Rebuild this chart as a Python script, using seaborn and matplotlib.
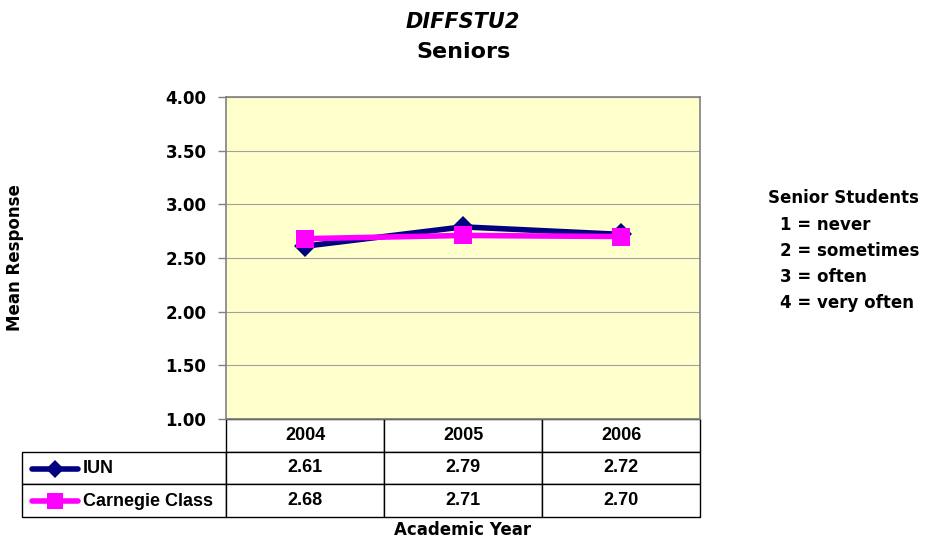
import pandas as pd
import seaborn as sns
import matplotlib.pyplot as plt
from matplotlib.lines import Line2D
from matplotlib.table import Table

# data
years = ['2004', '2005', '2006']
iun = [2.61, 2.79, 2.72]
carnegie = [2.68, 2.71, 2.70]
series_names = ['IUN', 'Carnegie Class']
colors = {'IUN': '#000080', 'Carnegie Class': '#FF00FF'}
markers = {'IUN': 'D', 'Carnegie Class': 's'}
scale_notes = ['1 = never', '2 = sometimes', '3 = often', '4 = very often']

df = pd.DataFrame({
    'Year': years * 2,
    'Mean': iun + carnegie,
    'Group': ['IUN'] * 3 + ['Carnegie Class'] * 3,
})

sns.set_theme(style='white')
plt.rcParams['font.family'] = ['DejaVu Sans']
plt.rcParams['font.weight'] = 'bold'
plt.rcParams['text.color'] = 'black'
plt.rcParams['ytick.labelcolor'] = 'black'

TABLE_FONT = ['Liberation Sans', 'DejaVu Sans']
LABEL_FONT = ['Liberation Sans Narrow', 'Liberation Sans']

fig = plt.figure(figsize=(9.27, 5.42), dpi=100)
ax = fig.add_axes([226 / 927, 1 - 419 / 542, 474 / 927, 322 / 542])
ax.set_facecolor('#FFFFCC')

ax = sns.lineplot(data=df, x='Year', y='Mean', hue='Group', style='Group',
                  palette=colors, markers=markers, dashes=False, lw=4,
                  markersize=13, markeredgewidth=0, legend=False, ax=ax,
                  sort=False)
# diamond slightly smaller than square
ax.lines[0].set_markersize(11)

ax.set_xlim(-0.5, 2.5)
ax.set_ylim(1.0, 4.0)
ax.set_yticks([1.0, 1.5, 2.0, 2.5, 3.0, 3.5, 4.0])
ax.set_yticklabels([f'{v:.2f}' for v in ax.get_yticks()], fontsize=12, fontweight='bold')
ax.set_xticks([])
ax.set_xlabel(None)
ax.set_ylabel(None)
ax.yaxis.grid(True, color='#A0A0A0', lw=0.8)
ax.set_axisbelow(True)
ax.tick_params(axis='y', left=True, length=6, color='#808080', width=1, pad=8)
for s in ax.spines.values():
    s.set_color('#808080')
    s.set_linewidth(1.2)

# data table under the plot (bbox covers the data columns only)
lab_w = 204 / 474
tab = Table(ax, bbox=[0, -98 / 322, 1, 98 / 322])
col_w = 1 / 3
h = 1 / 3
for j, yr in enumerate(years):
    tab.add_cell(0, j, width=col_w, height=h, text=yr, loc='center')
for i, (name, vals) in enumerate(zip(series_names, [iun, carnegie]), start=1):
    tab.add_cell(i, -1, width=lab_w, height=h, text='')
    for j, v in enumerate(vals):
        tab.add_cell(i, j, width=col_w, height=h, text=f'{v:.2f}', loc='center')
tab.auto_set_font_size(False)
tab.set_fontsize(13)
for cell in tab.get_celld().values():
    cell.set_edgecolor('black')
    cell.set_linewidth(1)
    cell.set_facecolor('white')
    cell.get_text().set_fontweight('bold')
    cell.get_text().set_fontfamily(TABLE_FONT)
ax.add_table(tab)

# legend keys in row-label cells
row_y = [-(33 + 16.5) / 322, -(66 + 16) / 322]
for name, yy in zip(series_names, row_y):
    x0 = -lab_w + 10 / 474
    ax.add_line(Line2D([x0, x0 + 23 / 474, x0 + 46 / 474], [yy, yy, yy],
                       transform=ax.transAxes, color=colors[name], lw=4,
                       marker=markers[name], markevery=[1],
                       markersize=9 if name == 'IUN' else 12,
                       markeredgewidth=0, clip_on=False))
    ax.text(x0 + 51 / 474, yy, name, transform=ax.transAxes, ha='left',
            va='center', fontsize=13, fontweight='bold', family=LABEL_FONT)

# titles and labels
fig.text(463 / 927, 1 - 22 / 542, 'DIFFSTU2', ha='center', va='center',
         fontsize=15, fontweight='bold', style='italic')
fig.text(463 / 927, 1 - 52 / 542, 'Seniors', ha='center', va='center',
         fontsize=16, fontweight='bold')
fig.text(15 / 927, 1 - 258 / 542, 'Mean Response', ha='center', va='center',
         rotation=90, fontsize=12, fontweight='bold')
fig.text(463 / 927, 1 - 530 / 542, 'Academic Year', ha='center', va='center',
         fontsize=12, fontweight='bold')

fig.text(768 / 927, 1 - 198 / 542, 'Senior Students', ha='left', va='center',
         fontsize=12, fontweight='bold')
for k, note in enumerate(scale_notes):
    fig.text(780 / 927, 1 - (225 + 26 * k) / 542, note, ha='left', va='center',
             fontsize=12, fontweight='bold')

fig.savefig('out.png', dpi=100, facecolor='white')
